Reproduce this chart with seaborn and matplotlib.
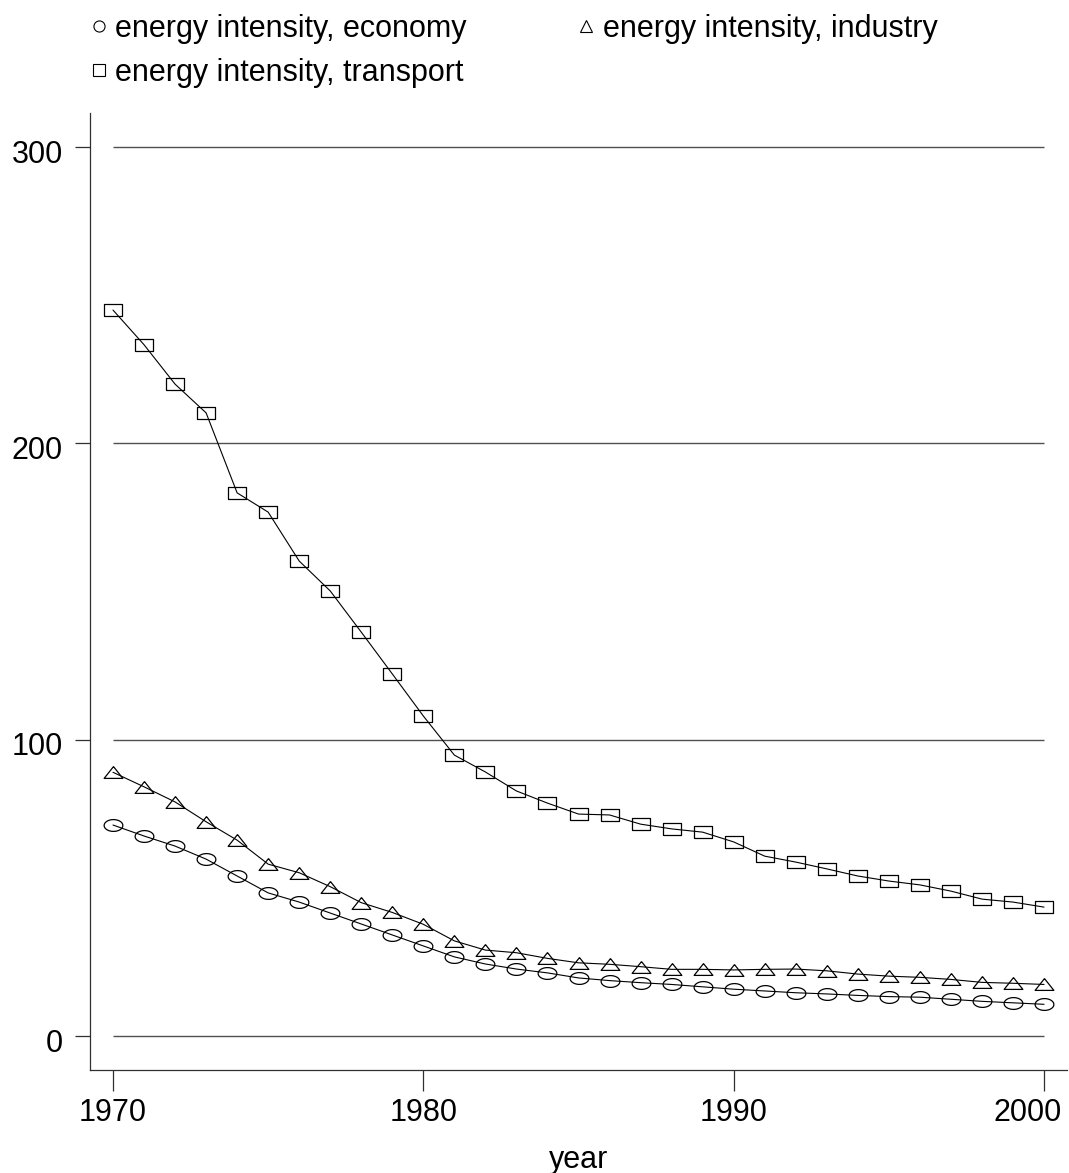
import numpy as np
import pandas as pd
import matplotlib
matplotlib.use("Agg")
import matplotlib.pyplot as plt
from matplotlib.lines import Line2D
from matplotlib import font_manager
import matplotlib.transforms as mtransforms
import seaborn as sns

years = list(range(1970, 2001))
economy = [71.2, 67.5, 64.1, 59.7, 54.0, 48.3, 45.2, 41.5, 37.8, 34.1, 30.4, 26.7, 24.3, 22.6, 21.3, 19.6,
           18.7, 18.0, 17.4, 16.6, 15.8, 15.2, 14.6, 14.2, 13.7, 13.3, 13.1, 12.4, 11.7, 11.2, 10.7]
industry = [89.0, 84.1, 79.0, 72.3, 66.1, 58.0, 55.1, 50.4, 45.0, 41.7, 37.7, 32.1, 29.0, 28.1, 26.2, 24.7,
            24.2, 23.4, 22.5, 22.5, 22.3, 22.5, 22.6, 22.0, 20.9, 20.2, 19.8, 19.1, 18.1, 17.8, 17.4]
transport = [245.0, 233.3, 220.0, 210.3, 183.3, 176.8, 160.3, 150.2, 136.3, 122.2, 108.0, 94.8, 89.1, 82.7,
             78.6, 74.9, 74.6, 71.5, 69.9, 68.8, 65.5, 60.7, 58.7, 56.4, 54.0, 52.3, 51.0, 48.9, 46.2, 45.2, 43.5]
labels = ["energy intensity, economy", "energy intensity, industry", "energy intensity, transport"]
yticks = [0, 100, 200, 300]
xticks = [1970, 1980, 1990, 2000]

sns.set_theme(style="white")
avail = {f.name for f in font_manager.fontManager.ttflist}
fam = [f for f in ["Liberation Sans Narrow", "Arial Narrow", "Liberation Sans", "DejaVu Sans"] if f in avail]
plt.rcParams["font.family"] = fam
for k in ["text.color", "xtick.color", "ytick.color", "axes.labelcolor"]:
    plt.rcParams[k] = "black"
FS = 22

# stretched (wide) marker shapes
asp = 0.63
t = np.linspace(0, 2 * np.pi, 41)
m_ellipse = np.column_stack([np.cos(t), asp * np.sin(t)])
m_rect = np.array([(-1, -asp), (1, -asp), (1, asp), (-1, asp), (-1, -asp)])
m_tri = np.array([(0, asp), (-1, -asp), (1, -asp), (0, asp)])

df = pd.DataFrame({"year": years, "economy": economy, "industry": industry, "transport": transport})

fig = plt.figure(figsize=(10.69, 11.73), dpi=100)
W, H = 1069, 1173
ax = fig.add_axes([89.5 / W, (H - 1069.7) / H, (1067 - 89.5) / W, (1069.7 - 113.3) / H])

ax.hlines(yticks, 1970, 2000, colors="#505050", linewidth=1.0, zorder=1)

for col, mk in [("economy", m_ellipse), ("industry", m_tri), ("transport", m_rect)]:
    sns.lineplot(data=df, x="year", y=col, ax=ax, color="black", linewidth=0.8,
                 marker=mk, markersize=13.5, markerfacecolor="none",
                 markeredgecolor="black", markeredgewidth=0.9, zorder=3)

ax.set_xlim(1969.243, 2000.74)
ax.set_ylim(-11.37, 311.4)
ax.set_xticks(xticks)
ax.set_yticks(yticks)
ax.set_xticklabels([str(v) for v in xticks], fontsize=FS)
ax.set_yticklabels([str(v) for v in yticks], fontsize=FS)
ax.tick_params(axis="x", direction="out", length=15, width=0.9, color="#303030", pad=5.5, bottom=True)
ax.tick_params(axis="y", direction="out", length=10.8, width=0.9, color="#303030", pad=8.5, left=True)
ax.set_xlabel("year", fontsize=FS, labelpad=12)
ax.set_ylabel("")
for s in ["top", "right"]:
    ax.spines[s].set_visible(False)
for s in ["left", "bottom"]:
    ax.spines[s].set_color("#303030")
    ax.spines[s].set_linewidth(0.9)

# y tick labels sit slightly below their gridlines in the reference
ydown = mtransforms.ScaledTranslation(0, -4 / 100, fig.dpi_scale_trans)
for lab in ax.get_yticklabels():
    lab.set_transform(lab.get_transform() + ydown)
# last x label is pulled inward so it stays inside the figure
xl = ax.get_xticklabels()[-1]
xl.set_horizontalalignment("right")
xl.set_transform(xl.get_transform() + mtransforms.ScaledTranslation(18 / 100, 0, fig.dpi_scale_trans))

def mk_handle(m):
    return Line2D([], [], linestyle="none", marker=m, markersize=8, markerfacecolor="none",
                  markeredgecolor="black", markeredgewidth=0.8)

h_econ, h_ind, h_tr = mk_handle("o"), mk_handle("^"), mk_handle("s")
# column-wise fill: column 1 = economy, transport; column 2 = industry
fig.legend([h_econ, h_tr, h_ind], [labels[0], labels[2], labels[1]], ncol=2, loc="upper left",
           bbox_to_anchor=(91 / W, 1 - 14 / H),
           frameon=False, fontsize=FS, handlelength=0.5, handletextpad=0.3,
           columnspacing=3.65, labelspacing=0.45, borderpad=0, borderaxespad=0)

fig.savefig("out.png", dpi=100)
